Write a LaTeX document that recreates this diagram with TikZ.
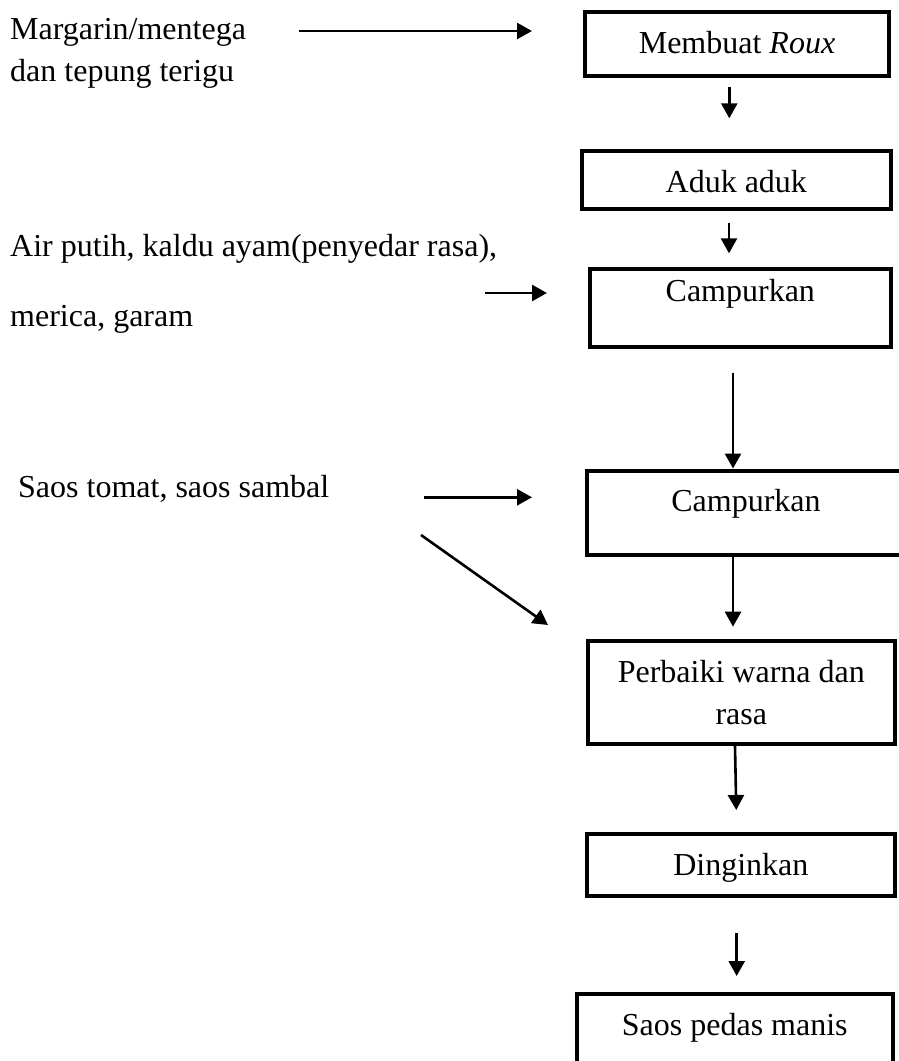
\documentclass[tikz,border=0pt]{standalone}
\usepackage{fontspec}
\setmainfont{Liberation Serif}
\usetikzlibrary{arrows.meta,positioning}
\tikzset{
  stepbox/.style={rectangle, draw=black, line width=4pt, inner sep=0pt,
                  align=center, font=\fontsize{32}{42}\selectfont},
  lbl/.style    ={inner sep=0pt, anchor=base west, align=left},
  ar/.style     ={-{Triangle[length=15pt,width=16pt]}, line width=2.6pt},
}

\begin{document}
\begin{tikzpicture}[x=1pt, y=-1pt]
\useasboundingbox (0,0) rectangle (898,1061);
% bahan
\node[lbl, font=\fontsize{32}{42.4}\selectfont] (margarin) at (10,81.7) {Margarin/mentega\\dan tepung terigu};
\node[lbl, font=\fontsize{32}{70}\selectfont] (air) at (10,326) {Air putih, kaldu ayam(penyedar rasa),\\merica, garam};
\node[lbl, font=\fontsize{32}{40}\selectfont] (saos) at (18,497.7) {Saos tomat, saos sambal};

% alur proses
\node[stepbox, minimum width=304pt, text height=41pt, text depth=23pt] (rouxbox) at (737,44) {Membuat \textit{Roux}};
\node[stepbox, below=70.5pt of rouxbox, xshift=-0.7pt, minimum width=308.5pt, text height=42pt, text depth=16.5pt] (aduk) {Aduk aduk};
\node[stepbox, below=56pt of aduk, xshift=4pt, minimum width=301.5pt, text height=32.7pt, text depth=45.3pt] (campur) {Campurkan};
\node[stepbox, below=119.5pt of campur, xshift=5.7pt, minimum width=318pt, text height=40.5pt, text depth=43.5pt] (campursaos) {Campurkan};
\node[stepbox, below=82pt of campursaos, xshift=-4.7pt, minimum width=306.7pt, minimum height=103.5pt] (perbaiki) {Perbaiki warna dan\\rasa};
\node[stepbox, below=86pt of perbaiki, xshift=-0.5pt, minimum width=307.5pt, text height=41pt, text depth=21pt] (dingin) {Dinginkan};
\node[stepbox, below=94pt of dingin, xshift=-6pt, minimum width=315.5pt, text height=41pt, text depth=45pt] (hasil) {Saos pedas manis};

\coordinate (margarin-a) at (299,31);  \coordinate (margarin-b) at (532,31);
\coordinate (air-a) at (485,293);      \coordinate (air-b) at (547,293);
\coordinate (saos-a) at (424,497.3);   \coordinate (saos-b) at (532,497.3);
\coordinate (saos-c) at (421,535);     \coordinate (saos-d) at (548,625);

\draw[ar] (margarin-a) -- (margarin-b);
\draw[ar] (air-a) -- (air-b);
\draw[ar] (saos-a) -- (saos-b);
\draw[ar] (saos-c) -- (saos-d);

\draw[ar, shorten <=8.7pt, shorten >=30.2pt] ([xshift=-7.7pt]rouxbox.south) -- ([xshift=-7pt]aduk.north);
\draw[ar, shorten <=12pt, shorten >=13.7pt] ([xshift=-7.3pt]aduk.south) -- ([xshift=-11.3pt]campur.north);
\draw[ar, shorten <=23.7pt] ([xshift=-7.3pt]campur.south) -- ([xshift=-13pt]campursaos.north);
\draw[ar, shorten >=11.8pt] ([xshift=-13pt]campursaos.south) -- ([xshift=-8.3pt]perbaiki.north);
\draw[ar, shorten >=22pt] ([xshift=-6.3pt]perbaiki.south) -- ([xshift=-4.1pt]dingin.north);
\draw[ar, shorten <=35pt, shorten >=16pt] ([xshift=-4.1pt]dingin.south) -- ([xshift=1.9pt]hasil.north);
\end{tikzpicture}
\end{document}
